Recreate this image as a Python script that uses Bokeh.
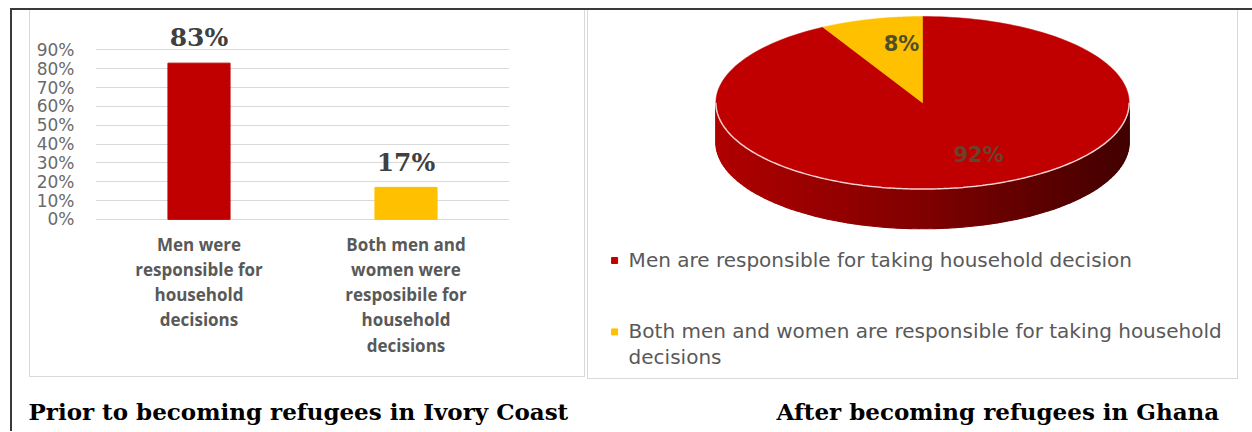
import numpy as np
from bokeh.plotting import figure
from bokeh.models import FactorRange, Range1d, FixedTicker, NumeralTickFormatter, ColumnDataSource, Spacer
from bokeh.layouts import row, column
from bokeh.core.properties import value
from bokeh.embed import file_html
from bokeh.resources import INLINE

# ---------------- data ----------------
bar_categories = ["Men were\nresponsible for\nhousehold\ndecisions",
                  "Both men and\nwomen were\nresposibile for\nhousehold\ndecisions"]
bar_values = [0.83, 0.17]
bar_value_labels = ["83%", "17%"]
bar_colors = ["#C00000", "#FFC000"]
y_ticks = [0.0, 0.1, 0.2, 0.3, 0.4, 0.5, 0.6, 0.7, 0.8, 0.9]

pie_legend_labels = ["Men are responsible for taking household decision",
                     "Both men and women are responsible for taking household\ndecisions"]
pie_values = [0.92, 0.08]
pie_value_labels = ["92%", "8%"]
pie_colors = ["#C00000", "#FFC000"]

captions = ["Prior to becoming refugees in Ivory Coast", "After becoming refugees in Ghana"]

# ---------------- styles ----------------
GRID = "#D9D9D9"
TXT = "#595959"
PANEL_BORDER = "1px solid #D9D9D9"
SANS = "Open Sans"
WIDE_SANS = "DejaVu Sans"
SERIF = "DejaVu Serif"

# ---------------- bar panel ----------------
BW, BH = 556, 367            # incl. 1px css borders
IW, IH = BW - 2, BH - 1      # inner canvas
PX_PER_UNIT = 187.7          # pixels per 100 %
ZERO_Y = 208.3               # canvas y of 0 %
FRAME_TOP = 4
y_top = (ZERO_Y - FRAME_TOP) / PX_PER_UNIT
y_bot = (ZERO_Y - IH) / PX_PER_UNIT

p1 = figure(width=BW, height=BH, x_range=FactorRange(factors=bar_categories),
            y_range=Range1d(y_bot, y_top), output_backend="svg", toolbar_location=None,
            x_axis_location=None, min_border_left=65, min_border_right=IW - 477,
            min_border_top=FRAME_TOP, min_border_bottom=0,
            styles={"border-left": PANEL_BORDER, "border-right": PANEL_BORDER,
                    "border-bottom": PANEL_BORDER})
p1.outline_line_color = None
p1.xgrid.grid_line_color = None
p1.yaxis.ticker = FixedTicker(ticks=y_ticks)
p1.yaxis.formatter = NumeralTickFormatter(format="0%")
p1.yaxis.axis_line_color = None
p1.yaxis.major_tick_line_color = None
p1.yaxis.minor_tick_line_color = None
p1.yaxis.major_tick_in = 0
p1.yaxis.major_tick_out = 0
p1.yaxis.major_label_standoff = 21
p1.yaxis.major_label_text_font = WIDE_SANS
p1.yaxis.major_label_text_font_size = "17px"
p1.yaxis.major_label_text_color = "#6A6A6A"
p1.ygrid.grid_line_color = GRID
p1.ygrid.grid_line_width = 1

bsrc = ColumnDataSource(dict(cat=bar_categories, val=bar_values, lab=bar_value_labels,
                             col=bar_colors,
                             laby=[v + 0.134 for v in bar_values],
                             caty=[-0.074] * len(bar_values)))
p1.vbar(x="cat", top="val", bottom=0, width=0.3, fill_color="col", line_color="col", source=bsrc)
p1.text(x="cat", y="laby", text="lab", source=bsrc, text_font=value(SERIF), text_font_style="bold",
        text_font_size="25px", text_color="#404040", text_align="center", text_baseline="middle")
p1.text(x="cat", y="caty", text="cat", source=bsrc, text_font=value(SANS), text_font_style="bold",
        text_font_size="17px", text_color=TXT, text_align="center", text_baseline="top",
        text_line_height=1.09)

# ---------------- pie panel ----------------
PW, PH = 651, 369
X0, Y0 = 588, 10
PIW, PIH = PW - 2, PH - 1
p2 = figure(width=PW, height=PH, x_range=Range1d(X0, X0 + PIW), y_range=Range1d(Y0 + PIH, Y0),
            output_backend="svg", toolbar_location=None, min_border=0,
            styles={"border-left": PANEL_BORDER, "border-right": PANEL_BORDER,
                    "border-bottom": PANEL_BORDER})
p2.axis.visible = False
p2.grid.visible = False
p2.outline_line_color = None

CX, CY, RX, RY, DEPTH = 921, 99, 206, 87, 40
side_shades = {"#C00000": ["#B00000", "#800000", "#420000"],
               "#FFC000": ["#C09000", "#A07800", "#705000"]}


def hex2rgb(h):
    return np.array([int(h[i:i + 2], 16) for i in (1, 3, 5)], dtype=float)


def shade(stops, t):
    a, b, c = (hex2rgb(s) for s in stops)
    rgb = a + (b - a) * (t / 0.5) if t < 0.5 else b + (c - b) * ((t - 0.5) / 0.5)
    return "#%02x%02x%02x" % tuple(int(round(v)) for v in rgb)


cum = np.concatenate([[0.0], np.cumsum(pie_values)])
starts = 90 - 360 * cum[:-1]
ends = 90 - 360 * cum[1:]

# side wall (front half only: angles -180..0 deg)
side_xs, side_ys, side_cols = [], [], []
for i, col in enumerate(pie_colors):
    lo, hi = max(ends[i], -180), min(starts[i], 0)
    if hi <= lo:
        continue
    angs = np.radians(np.linspace(lo, hi, 90))
    for a0, a1 in zip(angs[:-1], angs[1:]):
        xa, xb = CX + RX * np.cos(a0), CX + RX * np.cos(a1)
        ya, yb = CY - RY * np.sin(a0), CY - RY * np.sin(a1)
        side_xs.append([xa, xb, xb, xa])
        side_ys.append([ya, yb, yb + DEPTH, ya + DEPTH])
        t = (np.cos((a0 + a1) / 2) + 1) / 2
        side_cols.append(shade(side_shades[col], t))
p2.patches(side_xs, side_ys, fill_color=side_cols, line_color=side_cols, line_width=1.2)

# top faces
top_xs, top_ys = [], []
for i in range(len(pie_values)):
    angs = np.radians(np.linspace(starts[i], ends[i], 200))
    top_xs.append([CX] + list(CX + RX * np.cos(angs)))
    top_ys.append([CY] + list(CY - RY * np.sin(angs)))
p2.patches(top_xs, top_ys, fill_color=pie_colors, line_color=pie_colors, line_width=0.5)

# rim highlight
rim = np.radians(np.linspace(-180, 0, 200))
p2.line(CX + RX * np.cos(rim), CY - RY * np.sin(rim), line_color="#F3D3D3", line_width=1.5)

# value labels
mids = np.radians((starts + ends) / 2)
kx = [1.09, 0.41]
ky = [0.62, 0.70]
lx = [CX + RX * kx[i] * np.cos(mids[i]) for i in range(len(pie_values))]
ly = [CY - RY * ky[i] * np.sin(mids[i]) for i in range(len(pie_values))]
p2.text(x=lx, y=ly, text=pie_value_labels, text_font=value(WIDE_SANS), text_font_style="bold",
        text_font_size="21px", text_color=["#4A5A3A", "#4F4F2A"], text_alpha=[0.75, 1.0],
        text_align="center", text_baseline="middle")

# legend
LEG_X, LEG_Y, LEG_DY = 614, 258, 72
leg_y = [LEG_Y + i * LEG_DY for i in range(len(pie_legend_labels))]
p2.scatter(x=[LEG_X] * len(leg_y), y=leg_y, marker="square", size=6, fill_color=pie_colors,
           line_color=pie_colors)
p2.text(x=[LEG_X + 14] * len(leg_y), y=[y - 13 for y in leg_y], text=pie_legend_labels,
        text_font=value(WIDE_SANS), text_font_size="20px", text_color=TXT, text_align="left",
        text_baseline="top", text_line_height=1.07)

# ---------------- captions ----------------
CW, CH = 1240, 52
p3 = figure(width=CW, height=CH, x_range=Range1d(12, 12 + CW), y_range=Range1d(379 + CH, 379),
            output_backend="svg", toolbar_location=None, min_border=0)
p3.axis.visible = False
p3.grid.visible = False
p3.outline_line_color = None
p3.text(x=[28, 776], y=[411, 411], text=captions, text_font=value(SERIF), text_font_style="bold",
        text_font_size="23px", text_color="#000000", text_align="left", text_baseline="alphabetic")

top_row = row(Spacer(width=17, height=PH), p1, Spacer(width=2, height=PH), p2,
              Spacer(width=14, height=PH), spacing=0)
layout = column(top_row, p3, spacing=0,
                styles={"border-top": "2px solid #3A3A3A", "border-left": "2px solid #3A3A3A",
                        "margin-left": "10px", "margin-top": "8px"})

open("out.html", "w").write(file_html(layout, INLINE))
